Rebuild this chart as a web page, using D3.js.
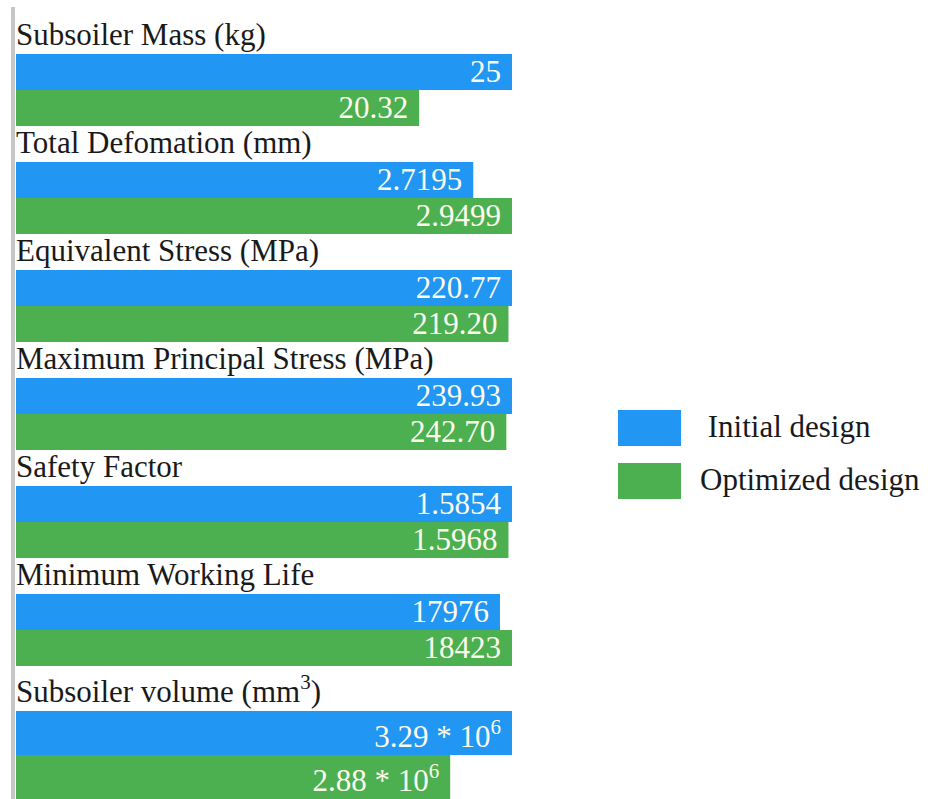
<!DOCTYPE html>
<html>
<head>
<meta charset="utf-8">
<script src="https://cdn.jsdelivr.net/npm/d3@7"></script>
</head>
<body style="margin:0">
<svg id="chart" width="932" height="799"></svg>
<script>
// ---- data ----
const categories = [
  "Subsoiler Mass (kg)",
  "Total Defomation (mm)",
  "Equivalent Stress (MPa)",
  "Maximum Principal Stress (MPa)",
  "Safety Factor",
  "Minimum Working Life",
  "Subsoiler volume (mm^{3})"
];
const seriesNames = [" Initial design", "Optimized design"];
// printed value labels
const initialLabels   = ["25", "2.7195", "220.77", "239.93", "1.5854", "17976", "3.29 * 10^{6}"];
const optimizedLabels = ["20.32", "2.9499", "219.20", "242.70", "1.5968", "18423", "2.88 * 10^{6}"];
// bar lengths as drawn in the source picture (rows 4 and 5 are drawn swapped there)
const initialBars   = [25, 2.7195, 220.77, 242.70, 1.5968, 17976, 3.29];
const optimizedBars = [20.32, 2.9499, 219.20, 239.93, 1.5854, 18423, 2.88];
const colors = ["#2196F3", "#4CAF50"];

// ---- layout ----
const FONT = "'Liberation Serif'";
const svg = d3.select("#chart");
const x0 = 16, x1 = 512;
const fontSize = 31, supSize = 21, supShift = 13;
const baseLine = 36, supExtraLabel = 9, supExtraBar = 8;
const hasSup = s => s.indexOf("^{") >= 0;

function addText(parent) {
  return parent.append("text")
    .attr("font-family", "Liberation Serif")
    .style("font-family", FONT)
    .attr("font-size", fontSize);
}

function rich(sel, str) {
  const re = /\^\{([^}]*)\}/g;
  let last = 0, m, shifted = false;
  const span = () => sel.append("tspan").style("font-family", FONT);
  while ((m = re.exec(str)) !== null) {
    if (m.index > last) {
      span().attr("dy", shifted ? supShift : null).text(str.slice(last, m.index));
      shifted = false;
    }
    span().attr("font-size", supSize).attr("dy", -supShift).text(m[1]);
    shifted = true;
    last = re.lastIndex;
  }
  if (last < str.length) {
    span().attr("dy", shifted ? supShift : null).text(str.slice(last));
  }
}

// left gray rule
svg.append("rect").attr("x", 11).attr("y", 7).attr("width", 4).attr("height", 792).attr("fill", "#c6c6c6");

let y = 18;
categories.forEach((cat, i) => {
  const labelH = baseLine + (hasSup(cat) ? supExtraLabel : 0);
  const barH = baseLine + ((hasSup(initialLabels[i]) || hasSup(optimizedLabels[i])) ? supExtraBar : 0);
  const g = svg.append("g");
  const lbl = addText(g)
    .attr("x", x0)
    .attr("y", y + labelH - 9)
    .attr("fill", "#1a1a1a");
  rich(lbl, cat);

  const xs = d3.scaleLinear()
    .domain([0, Math.max(initialBars[i], optimizedBars[i])])
    .range([x0, x1]);

  const rows = [
    { v: initialBars[i], label: initialLabels[i], c: colors[0] },
    { v: optimizedBars[i], label: optimizedLabels[i], c: colors[1] }
  ];
  rows.forEach((r, k) => {
    const top = y + labelH + k * barH;
    g.append("rect")
      .attr("x", xs(0))
      .attr("y", top)
      .attr("width", xs(r.v) - xs(0))
      .attr("height", barH)
      .attr("fill", r.c);
    const t = addText(g)
      .attr("x", xs(r.v) - 11)
      .attr("y", top + barH - 8)
      .attr("text-anchor", "end")
      .attr("fill", "#fbfbec");
    rich(t, r.label);
  });
  y += labelH + 2 * barH;
});

// legend
const legend = svg.append("g");
seriesNames.forEach((name, k) => {
  const ly = 410 + k * 53;
  legend.append("rect")
    .attr("x", 618).attr("y", ly).attr("width", 63).attr("height", 36)
    .attr("fill", colors[k]);
  addText(legend)
    .attr("x", 700).attr("y", ly + 27)
    .attr("fill", "#1a1a1a")
    .attr("xml:space", "preserve")
    .style("white-space", "pre")
    .text(name);
});
</script>
</body>
</html>
